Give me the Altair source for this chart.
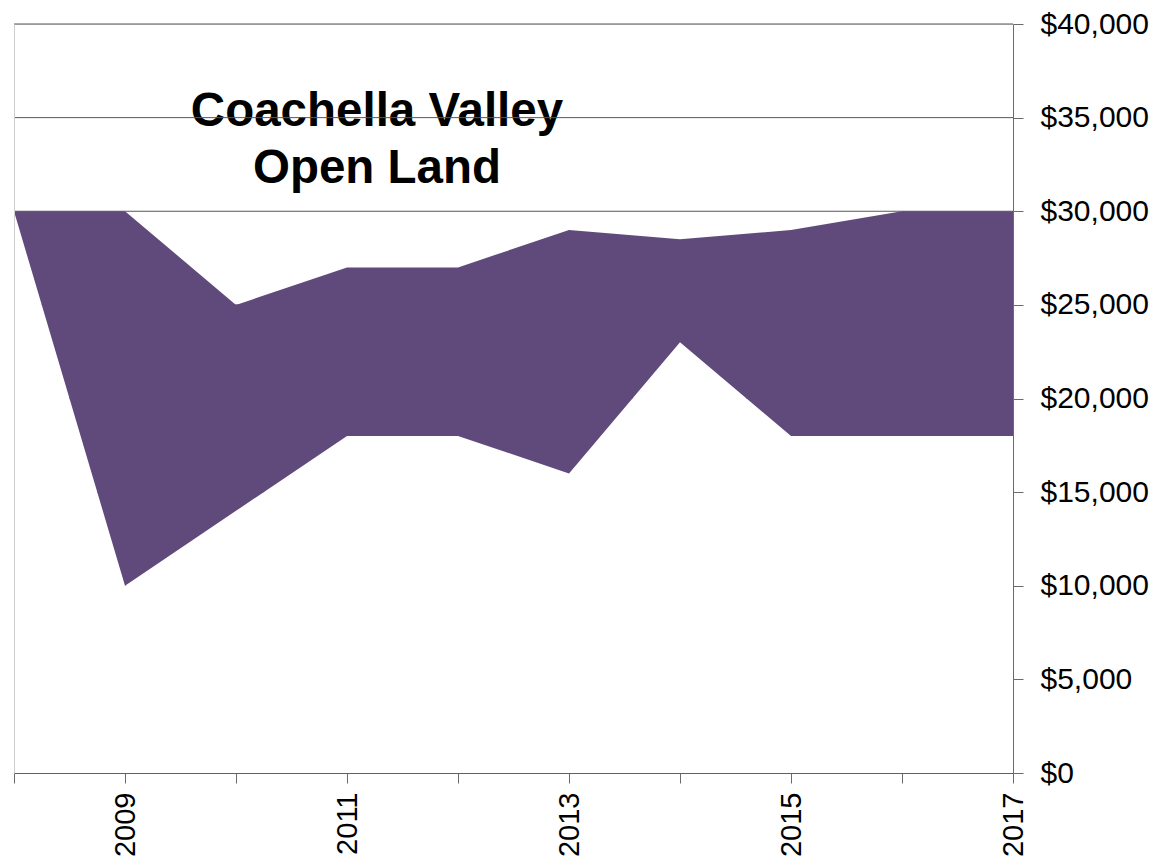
import altair as alt
import pandas as pd

years = [2008, 2009, 2010, 2011, 2012, 2013, 2014, 2015, 2016, 2017]
low_values = [30000, 10000, 14000, 18000, 18000, 16000, 23000, 18000, 18000, 18000]
high_values = [30000, 30000, 25000, 27000, 27000, 29000, 28500, 29000, 30000, 30000]
y_ticks = [0, 5000, 10000, 15000, 20000, 25000, 30000, 35000, 40000]
title_lines = ["Coachella Valley", "Open Land"]

df = pd.DataFrame({"year": years, "low": low_values, "high": high_values})
grid_df = pd.DataFrame({"v": y_ticks})

FONT = "Liberation Sans"
AXIS_COLOR = "#6b6b6b"

x_enc = alt.X(
    "year:Q",
    scale=alt.Scale(domain=[years[0], years[-1]], nice=False, zero=False),
    axis=alt.Axis(
        values=years,
        format="d",
        labelExpr="datum.value % 2 == 1 ? datum.label : ''",
        labelAngle=270,
        labelFont=FONT,
        labelFontSize=29,
        labelColor="#000000",
        labelPadding=9,
        labelOverlap=False,
        labelFlush=False,
        tickSize=10,
        tickColor=AXIS_COLOR,
        domainColor=AXIS_COLOR,
        grid=False,
        title=None,
    ),
)

y_scale = alt.Scale(domain=[0, 40000], nice=False, zero=True)

title_layer = alt.Chart(pd.DataFrame({"t": [0]})).mark_text(
    font=FONT, fontSize=47.5, fontWeight="bold", align="center",
    baseline="alphabetic", lineHeight=57, color="#000000",
).encode(
    x=alt.value(363),
    y=alt.value(102),
    text=alt.value(title_lines),
)

grid_layer = alt.Chart(grid_df).mark_rule(color="#575757", strokeWidth=1).encode(
    y=alt.Y("v:Q", scale=y_scale, axis=None),
)

white_layer = alt.Chart(df).mark_area(color="#ffffff", opacity=1).encode(
    x=x_enc,
    y=alt.Y(
        "low:Q",
        scale=y_scale,
        axis=alt.Axis(
            orient="left", labels=False, ticks=False, grid=False,
            domainColor="#cfcfcf", title=None, zindex=1,
        ),
    ),
)

band_layer = alt.Chart(df).mark_area(color="#604A7B", opacity=1).encode(
    x=x_enc,
    y=alt.Y(
        "low:Q",
        scale=y_scale,
        axis=alt.Axis(
            orient="right",
            values=y_ticks,
            format="$,.0f",
            labelFont=FONT,
            labelFontSize=30,
            labelColor="#000000",
            labelPadding=17,
            tickSize=10,
            tickColor=AXIS_COLOR,
            domainColor=AXIS_COLOR,
            grid=False,
            title=None,
            zindex=1,
        ),
    ),
    y2="high:Q",
)

chart = alt.layer(title_layer, grid_layer, white_layer, band_layer).resolve_axis(
    y="independent"
).properties(
    width=999,
    height=749,
    autosize=alt.AutoSizeParams(type="none"),
    padding={"left": 6, "top": 16, "right": 140, "bottom": 87},
).configure_view(stroke=None).configure(background="#ffffff")

chart.save("out.html", embed_options={"renderer": "svg", "actions": False})
